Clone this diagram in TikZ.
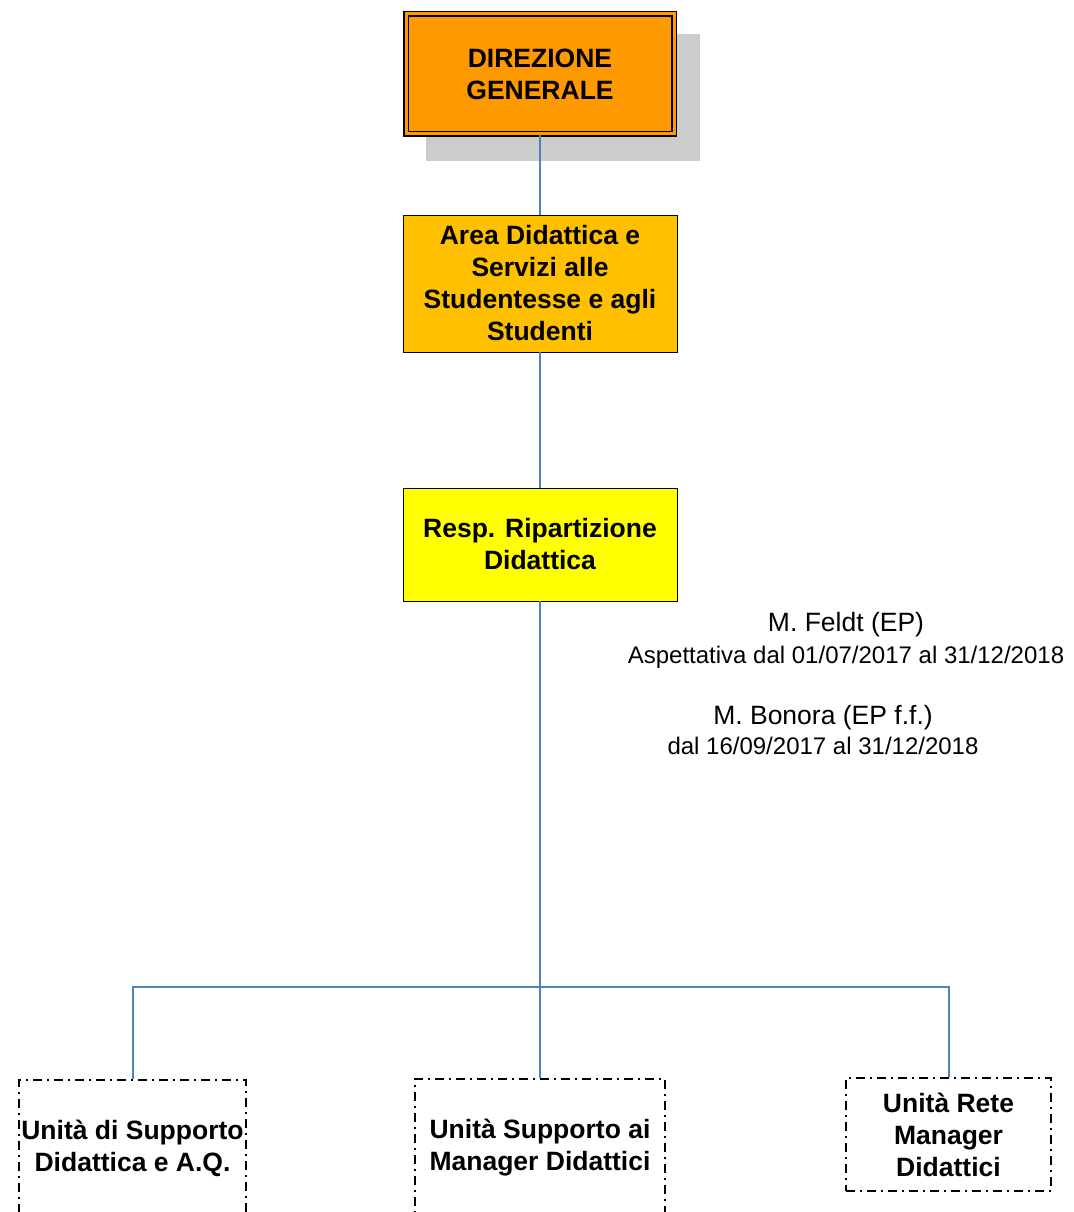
\documentclass[tikz,border=0pt]{standalone}
\usepackage{fontspec}
\setmainfont{Liberation Sans}
\usepackage{xcolor}
\usepackage{tikz}
\usetikzlibrary{scopes,positioning}
\definecolor{dgorange}{RGB}{255,153,0}
\definecolor{areaamber}{RGB}{255,192,0}
\definecolor{respyellow}{RGB}{255,255,0}
\definecolor{linkblue}{RGB}{79,129,189}
\tikzset{
  mybox/.style={draw,thin,align=center,inner sep=0pt,
    font=\fontsize{26.5}{32}\selectfont\bfseries},
  mydg/.style={mybox,fill=dgorange,line width=1.5pt,double=dgorange,
    double distance=3pt,minimum width=268,minimum height=120},
  myunit/.style={mybox,line width=2pt,
    dash pattern=on 9pt off 5pt on 2pt off 5pt},
  mynote/.style={align=center,inner sep=0pt},
  route/.style={color=linkblue,line width=2pt}
}

\begin{document}
\begin{tikzpicture}[x=1pt,y=-1pt]
  \useasboundingbox (0,0) rectangle (1073,1212);
  \clip (0,0) rectangle (1073,1212);
  % shadow behind the top box
  \fill[gray!40] (426,34) rectangle (700,161);
  \node[mydg] (dg) at (540,74) {DIREZIONE\\GENERALE};
  \node[mybox,fill=areaamber,minimum width=274,minimum height=137] (area) at (540,283.5)
    {Area Didattica e\\Servizi alle\\Studentesse e agli\\Studenti};
  \node[mybox,fill=respyellow,minimum width=274,minimum height=113] (resp) at (540,544.5)
    {Resp. Ripartizione\\Didattica};
  % units
  \node[myunit,minimum width=227,minimum height=136] (u1) at (132.5,1148)
    {Unità di Supporto\\Didattica e A.Q.};
  \node[myunit,minimum width=250,minimum height=138] (u2) at (540,1147.5)
    {Unità Supporto ai\\Manager Didattici};
  \node[myunit,minimum width=205,minimum height=113] (u3) at (948.5,1134.5)
    {Unità Rete\\Manager\\Didattici};
  % notes
  \node[mynote,font=\fontsize{26.5}{32}\selectfont] (feldt) at (846,640)
    {M. Feldt (EP)\\\fontsize{24}{32}\selectfont Aspettativa dal 01/07/2017 al 31/12/2018};
  \node[mynote,font=\fontsize{26.5}{30}\selectfont] (bonora) at (823,730)
    {M. Bonora (EP f.f.)\\\fontsize{24}{30}\selectfont dal 16/09/2017 al 31/12/2018};
  % links
  \coordinate (bus) at (540,987);
  {[route]
    \draw (dg) -- (area);
    \draw (area) -- (resp);
    \draw (resp) -- (u2);
    \draw (u1) |- (bus) -| (u3);
  }
\end{tikzpicture}
\end{document}
